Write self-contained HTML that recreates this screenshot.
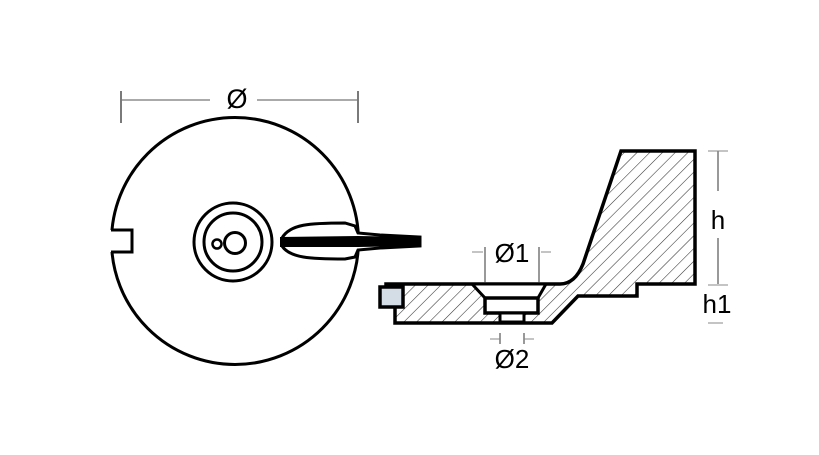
<!DOCTYPE html>
<html><head><style>html,body{margin:0;padding:0;background:#fff}svg{display:block}</style></head>
<body>
<svg width="819" height="455" viewBox="0 0 819 455" xmlns="http://www.w3.org/2000/svg">
<defs>
<pattern id="h" patternUnits="userSpaceOnUse" width="9" height="9" patternTransform="rotate(45)">
<line x1="0" y1="0" x2="0" y2="9" stroke="#333" stroke-width="1.1"/>
</pattern>
</defs>
<g stroke="#777" stroke-width="1.2">
<line x1="121" y1="91" x2="121" y2="123" stroke="#222"/>
<line x1="358" y1="91" x2="358" y2="123" stroke="#222"/>
<line x1="121" y1="100" x2="210" y2="100"/>
<line x1="257" y1="100" x2="358" y2="100"/>
</g>
<text x="237" y="108" font-family="Liberation Sans, sans-serif" font-size="27" text-anchor="middle">Ø</text>
<circle cx="235" cy="241" r="123.5" fill="none" stroke="#000" stroke-width="3"/>
<rect x="107" y="230" width="24" height="22" fill="#fff"/>
<path d="M 111 230 L 132 230 L 132 252 L 111 252" fill="none" stroke="#000" stroke-width="3"/>
<circle cx="233" cy="242" r="39" fill="none" stroke="#000" stroke-width="3"/>
<circle cx="233" cy="242" r="29" fill="none" stroke="#000" stroke-width="3"/>
<circle cx="235" cy="243" r="10.5" fill="none" stroke="#000" stroke-width="3"/>
<circle cx="217" cy="244" r="4.5" fill="none" stroke="#000" stroke-width="2.5"/>
<path d="M 282 238 C 290 224 310 223 345 223 L 355 226 L 358 233 L 380 235 L 420 237 L 420 246 L 380 248 L 358 250 L 355 257 L 345 259 C 310 259 290 258 282 246 Z" fill="#fff" stroke="#000" stroke-width="3"/>
<path d="M 280 237 L 358 236 L 420 237 L 420 246 L 358 247 L 280 247 Z" fill="#000"/>
<path d="M 395 323 L 552 323 L 578 296 L 637 296 L 637 284 L 695 284 L 695 151 L 621 151 L 583 264 Q 575 284 560 284 L 386 284 L 386 298 L 395 298 Z" fill="url(#h)" stroke="#000" stroke-width="3.5" stroke-linejoin="miter"/>
<path d="M 472 284 L 485 298 L 485 313 L 538 313 L 538 298 L 546 284 Z" fill="#fff" stroke="#000" stroke-width="3"/>
<rect x="485" y="298" width="53" height="15" fill="#fff" stroke="#000" stroke-width="3.5"/>
<rect x="500" y="313" width="24" height="9" fill="#fff" stroke="#000" stroke-width="3"/>
<rect x="380" y="287" width="23" height="20" fill="#d4dde6" stroke="#000" stroke-width="3.5"/>
<g stroke="#333" stroke-width="1">
<line x1="485" y1="247" x2="485" y2="283"/>
<line x1="539" y1="247" x2="539" y2="283"/>
<line x1="472" y1="252" x2="483" y2="252" stroke="#888"/>
<line x1="541" y1="252" x2="551" y2="252" stroke="#888"/>
<line x1="500" y1="333" x2="500" y2="344"/>
<line x1="524" y1="333" x2="524" y2="344"/>
<line x1="490" y1="339" x2="500" y2="339" stroke="#888"/>
<line x1="524" y1="339" x2="534" y2="339" stroke="#888"/>
<line x1="718" y1="151" x2="718" y2="191"/>
<line x1="718" y1="238" x2="718" y2="284"/>
<line x1="708" y1="151" x2="728" y2="151" stroke="#888"/>
<line x1="708" y1="285" x2="728" y2="285" stroke="#888"/>
<line x1="708" y1="323" x2="723" y2="323" stroke="#888"/>
</g>
<g font-family="Liberation Sans, sans-serif" font-size="26" fill="#000" text-anchor="middle">
<text x="512" y="262">Ø1</text>
<text x="512" y="368">Ø2</text>
<text x="718" y="229">h</text>
<text x="717" y="313">h1</text>
</g>
</svg>
</body></html>
